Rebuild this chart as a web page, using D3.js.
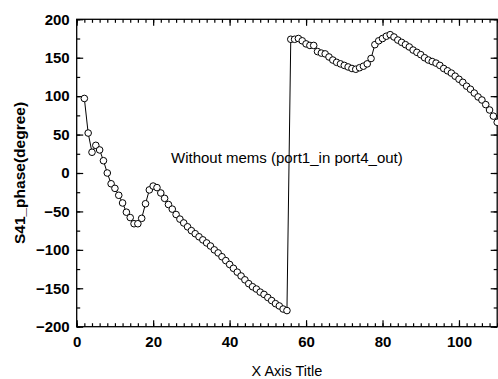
<html>
<head>
    <meta charset="utf-8">
    <script src="https://d3js.org/d3.v7.min.js"></script>
    <style>
      body { margin: 0; background: #fff; }
      text { font-family: "Liberation Sans", Arial, sans-serif; }
    </style>
</head>
<body>
    <div id="my_dataviz"></div>
<script>
    // data
    const freq = [2,3,4,5,6,7,8,9,10,11,12,13,14,15,16,17,18,19,20,21,22,23,24,25,26,27,28,29,30,
      31,32,33,34,35,36,37,38,39,40,41,42,43,44,45,46,47,48,49,50,51,52,53,54,55,56,57,58,59,60,
      61,62,63,64,65,66,67,68,69,70,71,72,73,74,75,76,77,78,79,80,81,82,83,84,85,86,87,88,89,90,
      91,92,93,94,95,96,97,98,99,100,101,102,103,104,105,106,107,108,109,110]
    const phase = [97,52,27,36,30,16,0,-14,-20,-29,-39,-51,-58,-66,-66,-59,-40,-22,-17,-19,-26,-33,
      -41,-47,-54,-60,-65,-70,-75,-79,-83,-87,-91,-95,-100,-104,-109,-114,-119,-124,-129,-134,-139,
      -144,-148,-151,-155,-158,-162,-166,-170,-173,-177,-179,
      174,174,175,172,168,166,166,158,156,155,151,147,144,142,140,138,136,135,137,139,142,149,
      167,172,175,178,180,177,173,170,167,164,160,157,154,150,147,145,143,140,136,133,130,126,
      122,118,113,109,104,99,95,89,82,74,66]
    const xMajor = [0,20,40,60,80,100]
    const xMinor = d3.range(0, 111, 2)
    const yMajor = [-200,-150,-100,-50,0,50,100,150,200]
    const yMinor = d3.range(-200, 201, 25)
    const xTitle = "X Axis Title"
    const yTitle = "S41_phase(degree)"
    const note = "Without mems (port1_in port4_out)"

    const data = freq.map((f, i) => ({x: f, y: phase[i]}))

    const W = 498, H = 379
    const pl = 76.7, pr = 497.2, pt = 19.3, pb = 326.7

    const svg = d3.select("#my_dataviz").append("svg")
      .attr("width", W).attr("height", H)

    const x = d3.scaleLinear().domain([0, 110]).range([pl, pr])
    const y = d3.scaleLinear().domain([-200, 200]).range([pb, pt])

    // axes, ticks pointing inward on all four sides
    function axisGroup(axis, tx, ty) {
      const g = svg.append("g").attr("transform", `translate(${tx},${ty})`).call(axis)
      g.select(".domain").remove()
      g.selectAll("line").attr("stroke", "#000").attr("stroke-width", 1.2)
      return g
    }
    const lab = g => g.selectAll("text")
      .style("font-size", "15px").style("font-weight", "bold").attr("fill", "#000")

    axisGroup(d3.axisBottom(x).tickValues(xMinor).tickSize(-3.5).tickFormat(""), 0, pb)
    axisGroup(d3.axisBottom(x).tickValues(xMajor).tickSize(-6.5).tickPadding(10), 0, pb).call(lab)
    axisGroup(d3.axisTop(x).tickValues(xMinor).tickSize(-3.5).tickFormat(""), 0, pt)
    axisGroup(d3.axisTop(x).tickValues(xMajor).tickSize(-6.5).tickFormat(""), 0, pt)

    axisGroup(d3.axisLeft(y).tickValues(yMinor).tickSize(-3.5).tickFormat(""), pl, 0)
    axisGroup(d3.axisLeft(y).tickValues(yMajor).tickSize(-6.5).tickPadding(7), pl, 0).call(lab)
    axisGroup(d3.axisRight(y).tickValues(yMinor).tickSize(-3.5).tickFormat(""), pr, 0)
    axisGroup(d3.axisRight(y).tickValues(yMajor).tickSize(-6.5).tickFormat(""), pr, 0)

    // frame
    svg.append("rect")
      .attr("x", pl).attr("y", pt)
      .attr("width", pr - pl).attr("height", pb - pt)
      .attr("fill", "none").attr("stroke", "#000").attr("stroke-width", 1.3)

    // line + open circles
    svg.append("path")
      .datum(data)
      .attr("fill", "none").attr("stroke", "#000").attr("stroke-width", 1)
      .attr("d", d3.line().x(d => x(d.x)).y(d => y(d.y)))

    svg.selectAll("circle.pt")
      .data(data)
      .join("circle")
        .attr("class", "pt")
        .attr("cx", d => x(d.x))
        .attr("cy", d => y(d.y))
        .attr("r", 3.3)
        .attr("fill", "#fff")
        .attr("stroke", "#000")
        .attr("stroke-width", 1)

    // titles
    svg.append("text")
      .attr("x", (pl + pr) / 2).attr("y", 375.5)
      .attr("text-anchor", "middle")
      .style("font-size", "14.5px")
      .text(xTitle)

    svg.append("text")
      .attr("transform", `translate(25,${(pt + pb) / 2}) rotate(-90)`)
      .attr("text-anchor", "middle")
      .style("font-size", "15.5px").style("font-weight", "bold")
      .text(yTitle)

    svg.append("text")
      .attr("x", 171).attr("y", 163.3)
      .style("font-size", "15px")
      .text(note)
</script>
</body>
</html>
